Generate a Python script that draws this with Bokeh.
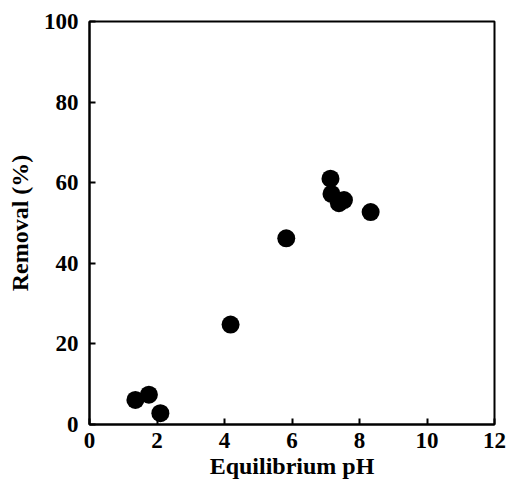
from bokeh.plotting import figure
from bokeh.models import Range1d, FixedTicker
from bokeh.embed import file_html
from bokeh.resources import INLINE

ph = [1.36, 1.76, 2.10, 4.18, 5.83, 7.14, 7.17, 7.39, 7.54, 8.33]
removal = [6.1, 7.4, 2.8, 24.8, 46.2, 61.0, 57.2, 54.9, 55.7, 52.7]
x_ticks = [0, 2, 4, 6, 8, 10, 12]
y_ticks = [0, 20, 40, 60, 80, 100]

FONT = "Liberation Serif"

p = figure(frame_width=405, frame_height=403, output_backend="svg",
           toolbar_location=None, x_range=Range1d(0, 12), y_range=Range1d(0, 100),
           min_border_left=89, min_border_top=21, min_border_right=12,
           min_border_bottom=56)
p.background_fill_color = "white"
p.border_fill_color = "white"
p.outline_line_color = "black"
p.outline_line_width = 2
p.grid.visible = False

p.scatter(ph, removal, size=18, color="black", line_color=None)

for ax, ticks in ((p.xaxis, x_ticks), (p.yaxis, y_ticks)):
    ax.ticker = FixedTicker(ticks=ticks)
    ax.minor_tick_line_color = None
    ax.major_tick_in = 6
    ax.major_tick_out = 0
    ax.major_tick_line_width = 2
    ax.axis_line_width = 2
    ax.axis_line_color = "black"
    ax.major_tick_line_color = "black"
    ax.major_label_text_font = FONT
    ax.major_label_text_font_style = "bold"
    ax.major_label_text_font_size = "23px"
    ax.major_label_text_color = "black"
    ax.axis_label_text_font = FONT
    ax.axis_label_text_font_style = "bold"
    ax.axis_label_text_font_size = "24px"
    ax.axis_label_text_color = "black"

p.xaxis.axis_label = "Equilibrium pH"
p.yaxis.axis_label = "Removal (%)"
p.xaxis.major_label_standoff = 8
p.yaxis.major_label_standoff = 11
p.xaxis.axis_label_standoff = 2
p.yaxis.axis_label_standoff = 8

open("out.html", "w").write(file_html(p, INLINE))
